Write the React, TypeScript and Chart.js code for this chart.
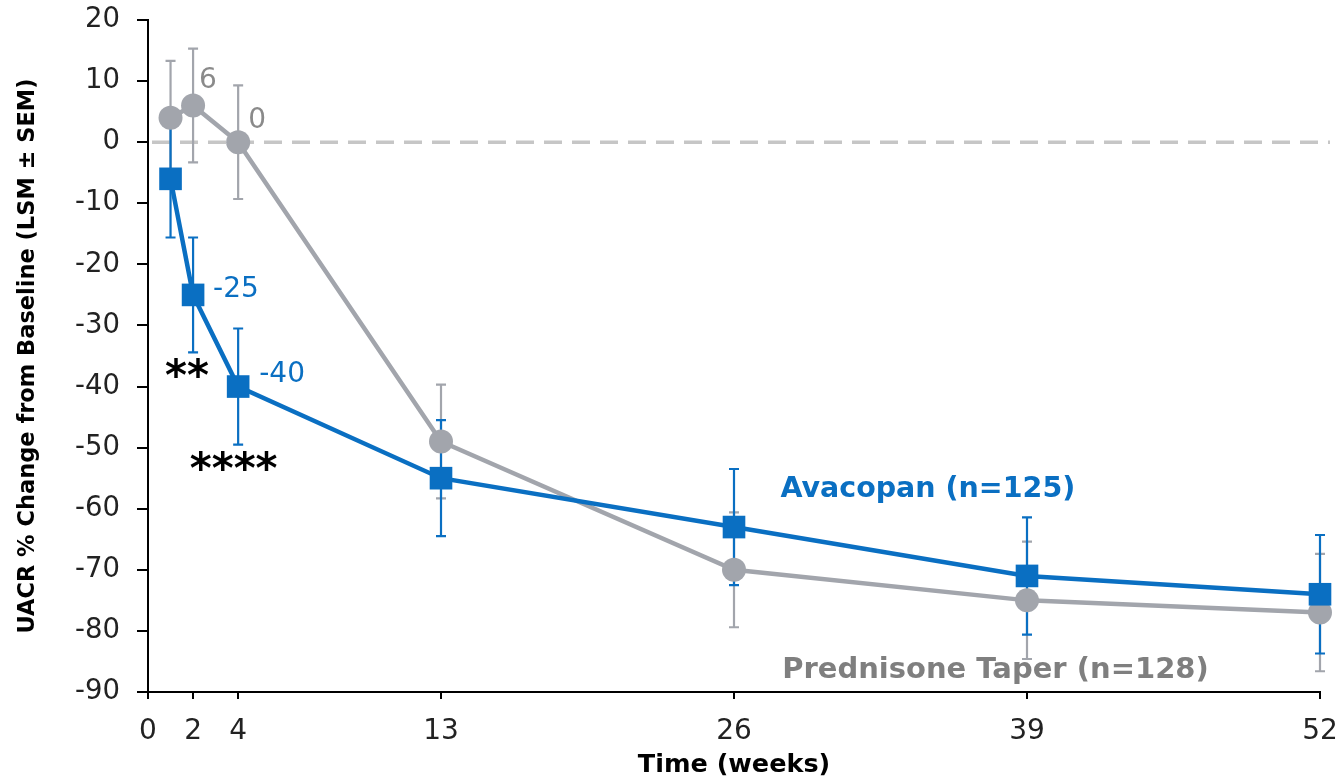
import React, { useEffect, useRef } from "react";
import { Chart, registerables } from "chart.js";

Chart.register(...registerables);

// ---- Data ----
const weeks = [1, 2, 4, 13, 26, 39, 52];
const avacopanLSM = [-6, -25, -40, -55, -63, -71, -74];
const avacopanSEM = [9.6, 9.4, 9.5, 9.5, 9.5, 9.6, 9.7];
const prednisoneLSM = [4, 6, 0, -49, -70, -75, -77];
const prednisoneSEM = [9.3, 9.3, 9.3, 9.3, 9.4, 9.6, 9.6];
const xTickValues = [0, 2, 4, 13, 26, 39, 52];

const BLUE = "#0a6fc2";
const GRAY = "#a2a5ac";
const GRAY_TEXT = "#8a8a8a";
const FONT = "'DejaVu Sans', 'Liberation Sans', sans-serif";

// Annotation texts (placed in data units)
const noteTexts = ["6", "0", "-25", "-40", "**", "****", "Avacopan (n=125)", "Prednisone Taper (n=128)"];
const noteX = [2.66, 4.84, 3.9, 5.95, 1.73, 3.8, 34.6, 37.6];
const noteY = [10.1, 3.5, -24.2, -38.0, -38.8, -54.0, -56.8, -86.5];
const noteColor = [GRAY_TEXT, GRAY_TEXT, BLUE, BLUE, "#000", "#000", BLUE, "#7f7f7f"];
const noteFont = [
  `28px ${FONT}`,
  `28px ${FONT}`,
  `28px ${FONT}`,
  `28px ${FONT}`,
  `bold 42px ${FONT}`,
  `bold 42px ${FONT}`,
  `bold 28.5px ${FONT}`,
  `bold 29px ${FONT}`,
];

const errorBarPlugin = {
  id: "errorBars",
  beforeDatasetsDraw(chart: any) {
    const { ctx, chartArea, scales } = chart;
    const xs = scales.x;
    const ys = scales.y;
    // dashed zero line
    ctx.save();
    ctx.strokeStyle = "#c6c6c6";
    ctx.lineWidth = 3.5;
    ctx.setLineDash([18, 10]);
    const y0 = ys.getPixelForValue(0);
    ctx.beginPath();
    ctx.moveTo(chartArea.left + 4, y0);
    ctx.lineTo(chartArea.right + 10, y0);
    ctx.stroke();
    ctx.restore();

    const drawBars = (lsm: number[], sem: number[], color: string) => {
      ctx.save();
      ctx.strokeStyle = color;
      ctx.lineWidth = 2.2;
      weeks.forEach((w, i) => {
        const px = xs.getPixelForValue(w);
        const top = ys.getPixelForValue(lsm[i] + sem[i]);
        const bot = ys.getPixelForValue(lsm[i] - sem[i]);
        ctx.beginPath();
        ctx.moveTo(px, top);
        ctx.lineTo(px, bot);
        ctx.moveTo(px - 5, top);
        ctx.lineTo(px + 5, top);
        ctx.moveTo(px - 5, bot);
        ctx.lineTo(px + 5, bot);
        ctx.stroke();
      });
      ctx.restore();
    };
    drawBars(prednisoneLSM, prednisoneSEM, GRAY);
    drawBars(avacopanLSM, avacopanSEM, BLUE);
  },
  afterDatasetsDraw(chart: any) {
    const { ctx, scales } = chart;
    ctx.save();
    ctx.textAlign = "center";
    ctx.textBaseline = "middle";
    noteTexts.forEach((t, i) => {
      ctx.font = noteFont[i];
      ctx.fillStyle = noteColor[i];
      ctx.fillText(t, scales.x.getPixelForValue(noteX[i]), scales.y.getPixelForValue(noteY[i]));
    });
    ctx.restore();
  },
};

export default function App() {
  const ref = useRef<HTMLCanvasElement | null>(null);
  useEffect(() => {
    if (!ref.current) return;
    const chart = new Chart(ref.current, {
      type: "line",
      data: {
        datasets: [
          {
            label: "Avacopan (n=125)",
            data: weeks.map((w, i) => ({ x: w, y: avacopanLSM[i] })),
            borderColor: BLUE,
            backgroundColor: BLUE,
            borderWidth: 4.5,
            pointStyle: "rect",
            pointRadius: 16,
            pointBorderWidth: 0,
            tension: 0,
            clip: false as any,
          },
          {
            label: "Prednisone Taper (n=128)",
            data: weeks.map((w, i) => ({ x: w, y: prednisoneLSM[i] })),
            borderColor: GRAY,
            backgroundColor: GRAY,
            borderWidth: 4.5,
            pointStyle: "circle",
            pointRadius: 12,
            pointBorderWidth: 0,
            tension: 0,
            clip: false as any,
          },
        ],
      },
      options: {
        animation: false,
        responsive: true,
        maintainAspectRatio: false,
        layout: { padding: { top: 20, right: 19, left: 0, bottom: 0 } },
        plugins: { legend: { display: false }, tooltip: { enabled: false } },
        scales: {
          x: {
            type: "linear",
            min: 0,
            max: 52,
            afterBuildTicks: (scale: any) => {
              scale.ticks = xTickValues.map((v) => ({ value: v }));
            },
            afterFit: (scale: any) => {
              scale.height = 91;
              scale.paddingLeft = 0;
              scale.paddingRight = 0;
            },
            grid: {
              display: true,
              drawOnChartArea: false,
              drawTicks: true,
              tickLength: 7,
              color: "#000",
              lineWidth: 2,
            },
            border: { display: true, color: "#000", width: 2 },
            ticks: {
              color: "#222",
              font: { family: FONT, size: 28 },
              padding: 16,
              maxRotation: 0,
              autoSkip: false,
            },
            title: {
              display: true,
              text: "Time (weeks)",
              color: "#000",
              font: { family: FONT, size: 25.5, weight: "bold" },
              padding: { top: 0, bottom: 2 },
            },
          },
          y: {
            min: -90,
            max: 20,
            afterFit: (scale: any) => {
              scale.width = 148;
              scale.paddingTop = 0;
              scale.paddingBottom = 0;
            },
            grid: {
              display: true,
              drawOnChartArea: false,
              drawTicks: true,
              tickLength: 11,
              color: "#000",
              lineWidth: 2,
            },
            border: { display: true, color: "#000", width: 2 },
            ticks: {
              stepSize: 10,
              color: "#222",
              font: { family: FONT, size: 27.5 },
              padding: 17,
            },
            title: {
              display: true,
              text: "UACR % Change from Baseline (LSM ± SEM)",
              color: "#000",
              font: { family: FONT, size: 22.5, weight: "bold" },
              padding: { top: 15, bottom: 0 },
            },
          },
        },
      },
      plugins: [errorBarPlugin],
    });
    return () => chart.destroy();
  }, []);
  return (
    <div style={{ position: "fixed", left: 0, top: 0, width: 1339, height: 783, background: "#fff" }}>
      <canvas ref={ref} />
    </div>
  );
}
